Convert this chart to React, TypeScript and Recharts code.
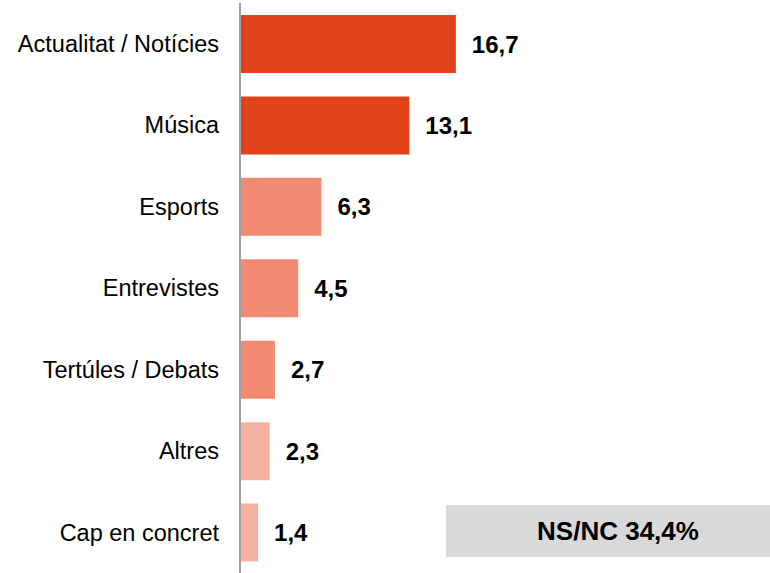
import { BarChart, Bar, XAxis, YAxis, Cell, LabelList } from 'recharts'

const categories = [
  'Actualitat / Notícies',
  'Música',
  'Esports',
  'Entrevistes',
  'Tertúles / Debats',
  'Altres',
  'Cap en concret',
]
const values = [16.7, 13.1, 6.3, 4.5, 2.7, 2.3, 1.4]
const colors = ['#E04319', '#E04319', '#F08A72', '#F08A72', '#F08A72', '#F4B3A2', '#F4B3A2']
const nsnc = 34.4

const data = categories.map((name, i) => ({ name, value: values[i] }))

const fmt = (v: number) => v.toFixed(1).replace('.', ',')

export default function App() {
  return (
    <div
      style={{
        position: 'absolute',
        left: 0,
        top: 0,
        width: 770,
        height: 573,
        overflow: 'hidden',
        fontFamily: '"Liberation Sans", Arial, sans-serif',
      }}
    >
      <BarChart
        layout="vertical"
        width={770}
        height={573}
        data={data}
        margin={{ top: 3, right: 13, bottom: 0, left: 0 }}
        barSize={58}
      >
        <XAxis type="number" domain={[0, 40]} hide />
        <YAxis
          type="category"
          dataKey="name"
          width={240}
          tickLine={false}
          tickSize={0}
          tickMargin={21}
          axisLine={{ stroke: '#a0a0a0', strokeWidth: 2 }}
          tick={{ fontSize: 23.5, fill: '#000' }}
          interval={0}
        />
        <Bar dataKey="value" isAnimationActive={false}>
          {data.map((d, i) => (
            <Cell key={d.name} fill={colors[i]} />
          ))}
          <LabelList
            dataKey="value"
            position="right"
            offset={16}
            formatter={(v: number) => fmt(v)}
            style={{ fontSize: 24, fontWeight: 'bold', fill: '#000' }}
          />
        </Bar>
      </BarChart>
      {/* NS/NC note box, runs off the right edge */}
      <div
        style={{
          position: 'absolute',
          left: 446,
          top: 505,
          width: 344,
          height: 52,
          background: '#d9d9d9',
          display: 'flex',
          alignItems: 'center',
          justifyContent: 'center',
          fontSize: 26,
          fontWeight: 'bold',
        }}
      >
        NS/NC {fmt(nsnc)}%
      </div>
    </div>
  )
}
